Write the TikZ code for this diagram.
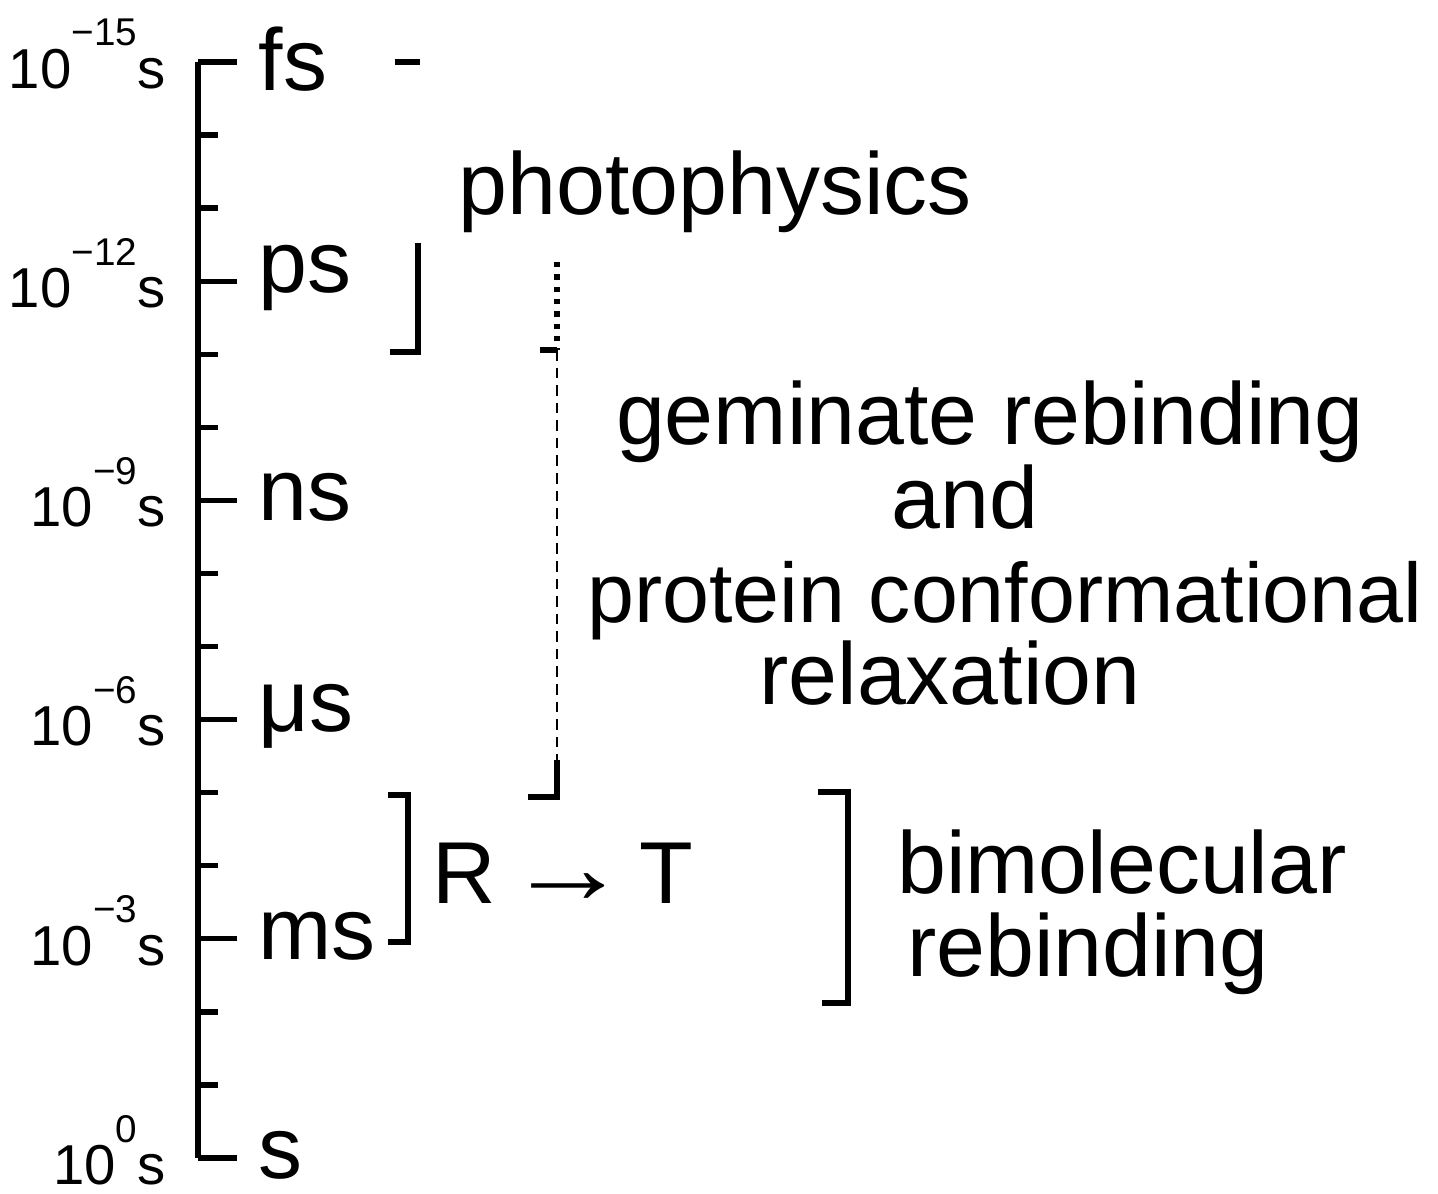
\documentclass[tikz,border=0pt]{standalone}
\usepackage{fontspec}
\setmainfont{Liberation Sans}
\usetikzlibrary{positioning}

\begin{document}
\begin{tikzpicture}[
  x=0.01cm, y=-0.01cm,
  every node/.style={font=\fontsize{25}{28}\selectfont, inner sep=0pt},
  power/.style={anchor=east, font=\fontsize{16}{18}\selectfont},
  unit/.style={anchor=west},
  axis/.style={line width=1.5pt},
  brack/.style={line width=1.5pt},
  faint/.style={line width=0.4pt, densely dashed}
]
  \useasboundingbox (0,0) rectangle (1438,1194);

  % time axis with ticks
  \draw[axis] (198,62) -- (198,1158);
  \foreach \i in {0,...,15} {
    \pgfmathsetmacro{\yy}{62+73.07*\i}
    \pgfmathsetmacro{\xx}{mod(\i,3)==0 ? 237 : 218}
    \draw[axis] (198,\yy) -- (\xx,\yy);
  }

  % decade labels
  \foreach \i/\ex/\un/\nm in {0/{−15}/fs/fs, 3/{−12}/ps/ps, 6/{−9}/ns/ns,
                              9/{−6}/μs/us, 12/{−3}/ms/ms, 15/{0}/s/s} {
    \pgfmathsetmacro{\yy}{62+73.07*\i}
    \node[power] (p-\nm) at (166,\yy-8) {10\raisebox{0.75em}{\fontsize{11}{13}\selectfont\ex}s};
    \node[unit] (u-\nm) at (258,\yy-3) {\un};
  }

  % photophysics
  \draw[brack] (395,62) -- (420,62);
  \draw[brack] (418,243) -- (418,352) -- (390,352);
  \node (photo) at (715,192) {photophysics};

  % geminate rebinding
  \draw[brack, dotted] (557,262) -- (557,350);
  \draw[brack] (557,350) -- (540,350);
  \draw[faint] (557,350) -- (557,760);
  \draw[brack] (557,760) -- (557,797) -- (528,797);
  \node (gem) at (990,422) {geminate rebinding};
  \node (and) at (965,497) {and};
  \node[font=\fontsize{24}{27}\selectfont] (prot) at (1005,601) {protein conformational};
  \node (relax) at (950,673) {relaxation};

  % R -> T
  \draw[brack] (388,795) -- (408,795) -- (408,942) -- (388,942);
  \node (rt) at (563,873) {R\kern3pt\scalebox{1.4}[1.2]{→}\kern3pt T};

  % bimolecular rebinding
  \draw[brack] (818,792) -- (848,792) -- (848,1003) -- (822,1003);
  \node (bimol) at (1122,862) {bimolecular};
  \node (rebind) at (1088,954) {rebinding};
\end{tikzpicture}
\end{document}
